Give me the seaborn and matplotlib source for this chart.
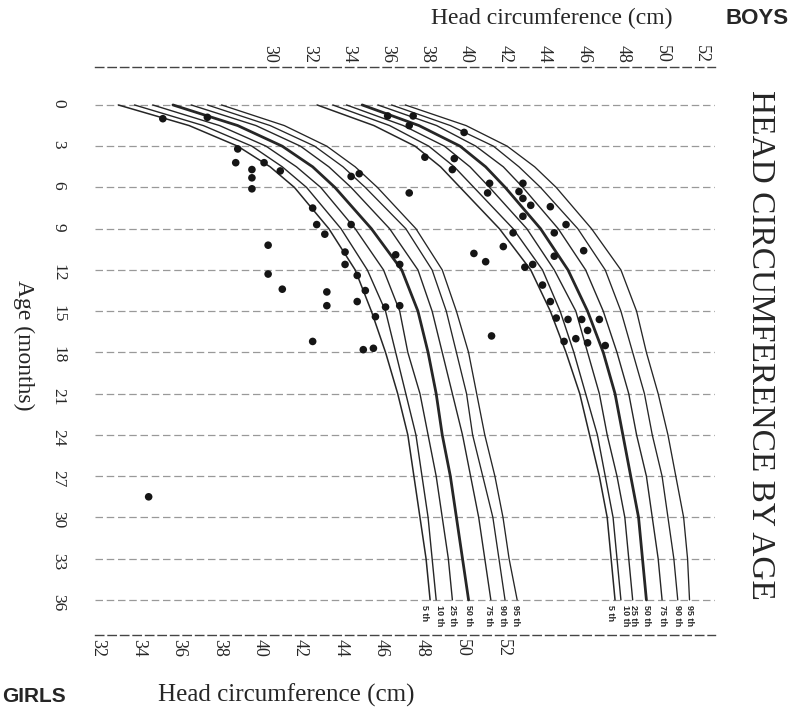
import matplotlib
matplotlib.use("Agg")
import matplotlib.pyplot as plt
import seaborn as sns

# ---------------- data ----------------
ages = [0, 1.5, 3, 4.5, 6, 9, 12, 15, 18, 21, 24, 27, 30, 33, 36]
percentiles = ["5", "10", "25", "50", "75", "90", "95"]

# girls percentile curves (bottom scale, cm)
girls_p5 = [33.0, 36.5, 38.9, 40.5, 41.7, 43.4, 44.7, 45.5, 46.2, 46.8, 47.3, 47.6, 47.9, 48.2, 48.4]
girls_p10 = [33.8, 37.2, 39.6, 41.1, 42.3, 44.0, 45.3, 46.2, 46.7, 47.2, 47.7, 48.0, 48.3, 48.5, 48.7]
girls_p25 = [34.7, 38.0, 40.3, 41.8, 43.0, 44.7, 46.1, 46.9, 47.3, 47.9, 48.3, 48.7, 49.0, 49.3, 49.5]
girls_p50 = [35.7, 38.9, 41.1, 42.6, 43.7, 45.5, 47.0, 47.8, 48.3, 48.7, 49.0, 49.4, 49.7, 50.0, 50.3]
girls_p75 = [36.6, 39.8, 42.0, 43.4, 44.5, 46.4, 47.8, 48.5, 49.0, 49.5, 50.0, 50.4, 50.8, 51.1, 51.4]
girls_p90 = [37.4, 40.5, 42.7, 44.1, 45.2, 47.2, 48.5, 49.2, 49.7, 50.2, 50.5, 51.0, 51.5, 51.8, 52.1]
girls_p95 = [38.1, 41.2, 43.3, 44.7, 45.8, 47.7, 49.0, 49.7, 50.3, 50.7, 51.1, 51.6, 52.0, 52.3, 52.7]

# boys percentile curves (top scale, cm)
boys_p5 = [32.4, 35.3, 37.4, 38.7, 39.7, 41.7, 43.3, 44.3, 45.1, 45.8, 46.3, 46.8, 47.2, 47.4, 47.6]
boys_p10 = [33.2, 36.1, 38.1, 39.4, 40.4, 42.4, 43.9, 44.8, 45.5, 46.1, 46.7, 47.1, 47.5, 47.7, 47.9]
boys_p25 = [33.9, 36.8, 38.9, 40.2, 41.2, 43.1, 44.5, 45.6, 46.2, 46.8, 47.2, 47.7, 48.1, 48.3, 48.5]
boys_p50 = [34.7, 37.6, 39.7, 41.0, 42.0, 43.8, 45.2, 46.2, 47.0, 47.6, 48.0, 48.4, 48.8, 49.0, 49.2]
boys_p75 = [35.5, 38.5, 40.5, 41.9, 42.9, 44.7, 46.1, 47.0, 47.7, 48.3, 48.7, 49.2, 49.5, 49.8, 50.0]
boys_p90 = [36.2, 39.2, 41.4, 42.7, 43.8, 45.7, 47.1, 47.9, 48.5, 49.1, 49.5, 50.0, 50.3, 50.6, 50.8]
boys_p95 = [36.9, 40.0, 42.1, 43.5, 44.6, 46.4, 47.9, 48.7, 49.2, 49.8, 50.3, 50.7, 51.1, 51.3, 51.4]

# measured children (dots)
girls_dot_age = [1.0, 0.9, 3.2, 4.2, 4.2, 4.7, 5.3, 6.1, 4.8, 5.2, 5.0, 7.5, 8.7, 9.4, 8.7,
                 10.2, 10.7, 11.6, 10.9, 11.6, 12.3, 12.4, 13.4, 13.6, 14.6, 13.5, 14.3,
                 14.7, 14.6, 15.4, 17.2, 17.8, 17.7, 28.5]
girls_dot_hc = [35.2, 37.4, 38.9, 38.8, 40.2, 39.6, 39.6, 39.6, 41.0, 44.5, 44.9, 42.6, 42.8,
                43.2, 44.5, 40.4, 44.2, 44.2, 46.7, 46.9, 40.4, 44.8, 41.1, 43.3, 43.3, 45.2,
                44.8, 46.2, 46.9, 45.7, 42.6, 45.1, 45.6, 34.5]
boys_dot_age = [0.8, 0.8, 1.5, 2.0, 3.8, 3.9, 4.7, 6.4, 5.7, 5.7, 6.4, 6.3, 6.8, 7.3, 7.4,
                8.1, 8.7, 9.3, 9.3, 10.6, 11.0, 10.3, 10.8, 11.4, 11.8, 11.6, 13.1, 14.3,
                15.5, 15.6, 15.6, 15.6, 16.4, 17.2, 17.0, 17.3, 17.5, 16.8]
boys_dot_hc = [36.0, 37.3, 37.1, 39.9, 37.9, 39.4, 39.3, 37.1, 41.2, 42.9, 41.1, 42.7, 42.9,
               43.3, 44.3, 42.9, 45.1, 42.4, 44.5, 46.0, 44.5, 41.9, 40.4, 41.0, 43.0, 43.4,
               43.9, 44.3, 44.6, 45.2, 45.9, 46.8, 46.2, 45.0, 45.6, 46.2, 47.1, 41.3]

age_ticks = list(range(0, 37, 3))
girls_ticks = list(range(32, 53, 2))
boys_ticks = list(range(30, 53, 2))

girls_curves = dict(zip(percentiles, [girls_p5, girls_p10, girls_p25, girls_p50,
                                      girls_p75, girls_p90, girls_p95]))
boys_curves = dict(zip(percentiles, [boys_p5, boys_p10, boys_p25, boys_p50,
                                     boys_p75, boys_p90, boys_p95]))

# ---------------- style ----------------
sns.set_theme(style="white")
plt.rcParams["font.family"] = ["Liberation Serif", "DejaVu Serif"]
ink = "#262626"

fig = plt.figure(figsize=(8, 7.15), dpi=100)
fig.patch.set_facecolor("white")
ax = fig.add_axes([0.119, 0.1119, 0.775, 0.7944])
ax2 = ax.twiny()

ax.set_ylim(38.55, -2.76)
ax.set_xlim(31.86, 62.48)
ax2.set_xlim(21.08, 52.71)

line_width = {"5": 1.1, "10": 1.0, "25": 1.0, "50": 2.0, "75": 1.0, "90": 0.95, "95": 0.95}

for pct, vals in girls_curves.items():
    sns.lineplot(x=vals, y=ages, ax=ax, sort=False, estimator=None,
                 color=ink, linewidth=line_width[pct], solid_joinstyle="round")
for pct, vals in boys_curves.items():
    sns.lineplot(x=vals, y=ages, ax=ax2, sort=False, estimator=None,
                 color=ink, linewidth=line_width[pct], solid_joinstyle="round")

sns.scatterplot(x=girls_dot_hc, y=girls_dot_age, ax=ax, color="#151515",
                s=30, edgecolor="none", zorder=5)
sns.scatterplot(x=boys_dot_hc, y=boys_dot_age, ax=ax2, color="#151515",
                s=30, edgecolor="none", zorder=5)

# percentile labels
girls_lab_off = {"5": -0.3, "10": 0.15, "25": 0.0, "50": 0.0, "75": -0.1, "90": -0.1, "95": -0.1}
boys_lab_off = {"5": -0.25, "10": 0.22, "25": 0.05, "50": 0.0, "75": 0.0, "90": 0.0, "95": 0.0}
for pct, vals in girls_curves.items():
    ax.text(vals[-1] + girls_lab_off[pct], 36.35, f"{pct} th", rotation=-90,
            ha="center", va="top", fontsize=6.5, fontweight="bold",
            family="Liberation Sans", color=ink)
for pct, vals in boys_curves.items():
    ax2.text(vals[-1] + boys_lab_off[pct], 36.35, f"{pct} th", rotation=-90,
             ha="center", va="top", fontsize=6.5, fontweight="bold",
             family="Liberation Sans", color=ink)

# axes / ticks
ax.set_yticks(age_ticks)
ax.set_xticks(girls_ticks)
ax2.set_xticks(boys_ticks)
ax.set_xlabel("")
ax.set_ylabel("")
ax2.set_xlabel("")
ax.tick_params(axis="y", labelrotation=-90, length=0, pad=21, labelsize=12.5, labelcolor=ink)
ax.tick_params(axis="x", labelrotation=-90, length=0, pad=3, labelsize=13, labelcolor=ink)
ax2.tick_params(axis="x", labelrotation=-90, length=0, pad=3, labelsize=13, labelcolor=ink)

ax.grid(axis="y", color="#555555", linestyle=(0, (6, 3)), linewidth=0.9, alpha=0.6)
ax.grid(axis="x", visible=False)
ax2.grid(False)

for s in ["left", "right", "top"]:
    ax.spines[s].set_visible(False)
for s in ["left", "right", "bottom"]:
    ax2.spines[s].set_visible(False)
for sp in (ax.spines["bottom"], ax2.spines["top"]):
    sp.set_linestyle((0, (6, 3)))
    sp.set_color("#444444")
    sp.set_linewidth(1.0)

# texts
W, H = 800, 715
def fx(px):
    return px / W
def fy(py):
    return 1 - py / H

fig.text(fx(552), fy(18), "Head circumference (cm)", ha="center", va="center",
         fontsize=17, color=ink)
fig.text(fx(757), fy(18), "BOYS", ha="center", va="center", fontsize=16,
         fontweight="bold", family="Liberation Sans", color=ink)
fig.text(fx(286), fy(695), "Head circumference (cm)", ha="center", va="center",
         fontsize=18, color=ink)
fig.text(fx(2), fy(697), "GIRLS", ha="left", va="center", fontsize=15,
         fontweight="bold", family="Liberation Sans", color=ink)
fig.text(fx(24), fy(345), "Age (months)", ha="center", va="center", rotation=-90,
         fontsize=17, color=ink)
fig.text(fx(760), fy(345), "HEAD CIRCUMFERENCE BY AGE", ha="center", va="center",
         rotation=-90, fontsize=24, color=ink)

fig.savefig("out.png", dpi=100, facecolor="white")
